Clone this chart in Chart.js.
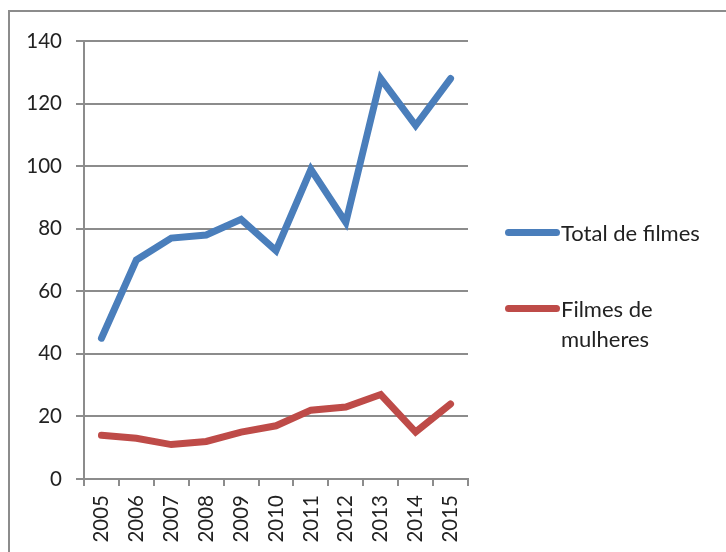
<!DOCTYPE html>
<html>
<head>
<meta charset="utf-8">
<script src="https://cdn.jsdelivr.net/npm/chart.js@4/dist/chart.umd.min.js"></script>
<style>
  html, body { margin: 0; padding: 0; background: #fff; overflow: hidden; }
  #wrap { position: relative; width: 726px; height: 552px; }
  #frame { position: absolute; left: 8px; top: 10px; width: 800px; height: 600px;
           border-left: 2px solid #8c8c8c; border-top: 2px solid #8c8c8c; }
  #myChart { position: absolute; left: 0; top: 0; }
  .leg { position: absolute; left: 505px; font: 22px Lato, sans-serif; color: #222; line-height: 30px; }
  .leg .sw { position: absolute; left: 0; top: 11px; width: 55px; height: 7px; border-radius: 4px; }
  .leg .tx { position: absolute; left: 56px; top: 0; white-space: nowrap; }
</style>
</head>
<body>
<div id="wrap">
  <div id="frame"></div>
  <canvas id="myChart" width="726" height="552"></canvas>
  <div class="leg" style="top:218px"><span class="sw" style="background:#4a7ebb"></span><span class="tx">Total de filmes</span></div>
  <div class="leg" style="top:294px"><span class="sw" style="background:#be4b48"></span><span class="tx">Filmes de<br>mulheres</span></div>
</div>
<script>
const years = ["2005", "2006", "2007", "2008", "2009", "2010", "2011", "2012", "2013", "2014", "2015"];
const totalFilmes = [45, 70, 77, 78, 83, 73, 99, 82, 128, 113, 128];
const filmesMulheres = [14, 13, 11, 12, 15, 17, 22, 23, 27, 15, 24];
const yTicks = [0, 20, 40, 60, 80, 100, 120, 140];

const gridColor = '#8c8c8c';
const textColor = '#222';

const ctx = document.getElementById('myChart').getContext('2d');
const chart = new Chart(ctx, {
  type: 'line',
  data: {
    labels: years,
    datasets: [{
      label: "Total de filmes",
      data: totalFilmes,
      borderColor: '#4a7ebb',
      backgroundColor: '#4a7ebb',
      borderWidth: 7,
      pointRadius: 0,
      tension: 0,
      borderJoinStyle: 'miter',
      borderCapStyle: 'round'
    }, {
      label: "Filmes de mulheres",
      data: filmesMulheres,
      borderColor: '#be4b48',
      backgroundColor: '#be4b48',
      borderWidth: 7,
      pointRadius: 0,
      tension: 0,
      borderJoinStyle: 'miter',
      borderCapStyle: 'round'
    }]
  },
  options: {
    responsive: false,
    animation: false,
    devicePixelRatio: 1,
    layout: { padding: { top: 41, right: 258, bottom: 0, left: 0 } },
    plugins: { legend: { display: false }, tooltip: { enabled: false } },
    scales: {
      x: {
        offset: true,
        grid: { offset: true, drawOnChartArea: false, color: gridColor, lineWidth: 2, tickLength: 7 },
        border: { color: gridColor, width: 2 },
        ticks: { minRotation: 90, maxRotation: 90, color: textColor, padding: 9,
                 font: { family: 'Lato', size: 20.5 } },
        afterFit: (scale) => { scale.height = 73; }
      },
      y: {
        min: yTicks[0],
        max: yTicks[yTicks.length - 1],
        afterBuildTicks: (scale) => { scale.ticks = yTicks.map(v => ({ value: v })); },
        grid: { color: gridColor, lineWidth: 2, tickLength: 8 },
        border: { color: gridColor, width: 2 },
        ticks: { color: textColor, padding: 14, font: { family: 'Lato', size: 20.5 } },
        afterFit: (scale) => { scale.width = 84; }
      }
    }
  }
});
</script>
</body>
</html>
